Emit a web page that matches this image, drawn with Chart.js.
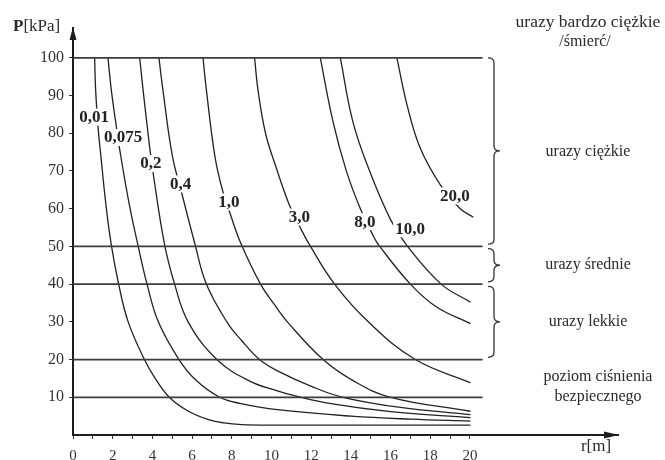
<!DOCTYPE html>
<html><head><meta charset="utf-8">
<script src="https://cdn.jsdelivr.net/npm/chart.js@4"></script>
<style>html,body{margin:0;padding:0;background:#fff;}canvas{display:block;}</style>
</head><body>
<canvas id="c" width="665" height="460"></canvas>
<script>
// charge mass labels (one per curve)
const chargeLabels = ['0,01','0,075','0,2','0,4','1,0','3,0','8,0','10,0','20,0'];
// curves: [r (m), P (kPa)]
const c001 = [[1.09,100],[1.14,91.5],[1.26,81.7],[1.4,74.2],[1.66,61],[1.93,50.4],[2.3,40],[2.78,30],[3.6,20],[4.13,15.1],[4.85,10],[5.75,6.5],[6.75,4.2],[7.6,3.2],[8.5,2.75],[10.3,2.62],[14,2.6],[20,2.6]];
const c0075 = [[1.76,100],[1.93,91.5],[2.15,83],[2.4,74.2],[2.84,61],[3.27,50.4],[3.73,40],[4.3,30],[5.34,20],[6.2,14.5],[7.39,10],[8.4,8.4],[10.3,6.7],[14,5.0],[17,4.2],[20,3.7]];
const c02 = [[3.36,100],[3.53,91.5],[3.87,76],[4.05,69],[4.6,50.9],[5.12,40],[5.8,30],[7.25,20],[8.9,14.3],[10.3,11.7],[11.1,10.5],[13,8.3],[16,6.2],[20,4.6]];
const c04 = [[4.33,100],[4.53,91.5],[5.0,74.2],[5.5,63.7],[6.13,50.9],[6.72,40],[7.75,30],[8.5,25],[9.4,20],[10.3,17],[12.1,12.7],[13.6,10],[16.5,7.3],[20,5.4]];
const c1 = [[6.55,100],[6.72,91.5],[7.14,74.2],[7.5,65.5],[7.88,59.3],[8.45,50.9],[9.45,40],[10.2,34.2],[10.8,30],[12.6,20],[14.15,14.3],[16.0,10],[20,6.3]];
const c3 = [[9.15,100],[9.32,91.5],[9.7,80],[10.2,71.5],[10.9,61],[11.42,55.3],[11.92,50.4],[13.18,40],[14.88,30],[17.25,20],[20,13.9]];
const c8 = [[12.46,100],[13.1,83.1],[13.78,69.9],[14.5,59.7],[15.1,53.1],[15.4,50.4],[17.0,40],[18.3,34],[20,29.6]];
const c10 = [[13.47,100],[14.1,83.1],[14.95,69.9],[16.0,57.1],[16.8,50.4],[18.55,40],[20,35.3]];
const c20 = [[16.32,100],[16.83,87.5],[17.5,76],[18.5,66.4],[19.51,60],[20.15,57.8]];
const curves = [c001,c0075,c02,c04,c1,c3,c8,c10,c20];
// curve label anchors (r, P)
const labelAnchors = [[1.06,84.4],[2.52,79.0],[3.93,72.1],[5.42,66.7],[7.86,61.9],[11.41,57.9],[14.71,56.7],[16.98,54.8],[19.24,63.5]];
// horizontal threshold levels (kPa) and their right end (m)
const levels = [100,50,40,20,10];
const levelEnd = 20.6;
// tick labels
const yTicks = [10,20,30,40,50,60,70,80,90,100];
const xTicks = [0,1,2,3,4,5,6,7,8,9,10,11,12,13,14,15,16,17,18,19,20];
const xTickLabels = ['0','','2','','4','','6','','8','','10','','12','','14','','16','','18','','20'];
// injury zones: [from P, to P]
const braces = [[100,50.6],[49.4,40.6],[39.4,20.6]];
const zoneTexts = [['urazy ciężkie',75],['urazy średnie',45],['urazy lekkie',30]];
const safeTexts = [['poziom ciśnienia',15.3],['bezpiecznego',10.2]];
const topTexts = ['urazy bardzo ciężkie','/śmierć/'];

const datasets = [];
levels.forEach(l => datasets.push({data:[{x:0,y:l},{x:levelEnd,y:l}],borderColor:'#3c3c3c',borderWidth:1.8,pointRadius:0,tension:0}));
curves.forEach(c => datasets.push({data:c.map(([r,p])=>({x:r,y:p})),borderColor:'#222',borderWidth:1.3,pointRadius:0,tension:0.4}));

const SERIF = '"Liberation Serif", "Times New Roman", serif';
const decor = {
  id:'decor',
  afterDatasetsDraw(chart){
    const {ctx, scales:{x,y}, chartArea:a} = chart;
    ctx.save();
    // curve labels
    ctx.font = 'bold 17px ' + SERIF;
    ctx.textAlign='center'; ctx.textBaseline='middle';
    chargeLabels.forEach((t,i)=>{
      const px = x.getPixelForValue(labelAnchors[i][0]);
      const py = y.getPixelForValue(labelAnchors[i][1]);
      const w = ctx.measureText(t).width;
      ctx.fillStyle='#fff';
      ctx.fillRect(px-w/2-2, py-8, w+4, 17);
      ctx.fillStyle='#222';
      ctx.fillText(t, px, py+1);
    });
    // arrows
    ctx.fillStyle='#1e1e1e';
    ctx.beginPath(); ctx.moveTo(a.left, a.top-1); ctx.lineTo(a.left-3.5, a.top+12); ctx.lineTo(a.left+3.5, a.top+12); ctx.closePath(); ctx.fill();
    ctx.beginPath(); ctx.moveTo(a.right+1, a.bottom); ctx.lineTo(a.right-14, a.bottom-3.5); ctx.lineTo(a.right-14, a.bottom+3.5); ctx.closePath(); ctx.fill();
    // braces
    ctx.strokeStyle='#333'; ctx.lineWidth=1.3;
    const bl = 488, bb = 494, bt = 500;
    braces.forEach(([p1,p2])=>{
      const y1 = y.getPixelForValue(p1), y2 = y.getPixelForValue(p2), m=(y1+y2)/2;
      ctx.beginPath();
      ctx.moveTo(bl,y1);
      ctx.quadraticCurveTo(bb,y1,bb,y1+5);
      ctx.lineTo(bb,m-5);
      ctx.quadraticCurveTo(bb,m,bt,m);
      ctx.quadraticCurveTo(bb,m,bb,m+5);
      ctx.lineTo(bb,y2-5);
      ctx.quadraticCurveTo(bb,y2,bl,y2);
      ctx.stroke();
    });
    // zone texts
    ctx.fillStyle='#2a2a2a';
    ctx.font = '16px ' + SERIF;
    zoneTexts.forEach(([t,p])=>ctx.fillText(t, 588, y.getPixelForValue(p)));
    safeTexts.forEach(([t,p])=>ctx.fillText(t, 598, y.getPixelForValue(p)));
    ctx.font = '17.5px ' + SERIF;
    ctx.fillText(topTexts[0], 588, a.top-6);
    ctx.font = '16px ' + SERIF;
    ctx.fillText(topTexts[1], 585, a.top+14);
    // axis titles
    ctx.font = '17px ' + SERIF;
    ctx.fillText('r[m]', a.right-22, 447);
    ctx.textAlign='left';
    ctx.font = 'bold 17px ' + SERIF;
    ctx.fillText('P', 13, a.top-1);
    const pw = ctx.measureText('P').width;
    ctx.font = '17px ' + SERIF;
    ctx.fillText('[kPa]', 13+pw, a.top-1);
    ctx.restore();
  }
};

new Chart(document.getElementById('c'), {
  type:'line',
  data:{datasets},
  options:{
    responsive:false, animation:false, devicePixelRatio:1,
    layout:{padding:{left:0,right:47,top:28,bottom:0}},
    plugins:{legend:{display:false},tooltip:{enabled:false}},
    elements:{line:{borderCapStyle:'round'}},
    scales:{
      x:{type:'linear',min:0,max:27.46,
        afterFit:s=>{s.height=25;},
        afterBuildTicks:s=>{s.ticks=xTicks.map(v=>({value:v}));},
        grid:{drawOnChartArea:false,drawTicks:true,tickLength:4,color:'#333',lineWidth:1},
        border:{display:true,color:'#1e1e1e',width:2},
        ticks:{autoSkip:false,maxRotation:0,padding:8,color:'#333',font:{family:SERIF,size:15},
          callback:(v,i)=>xTickLabels[xTicks.indexOf(v)] ?? ''}
      },
      y:{type:'linear',min:0,max:107.9,
        afterFit:s=>{s.width=73;},
        afterBuildTicks:s=>{s.ticks=yTicks.map(v=>({value:v}));},
        grid:{drawOnChartArea:false,drawTicks:true,tickLength:4,color:'#333',lineWidth:1},
        border:{display:true,color:'#1e1e1e',width:2},
        ticks:{autoSkip:false,padding:5,color:'#333',font:{family:SERIF,size:16}}
      }
    }
  },
  plugins:[decor]
});
</script>
</body></html>
